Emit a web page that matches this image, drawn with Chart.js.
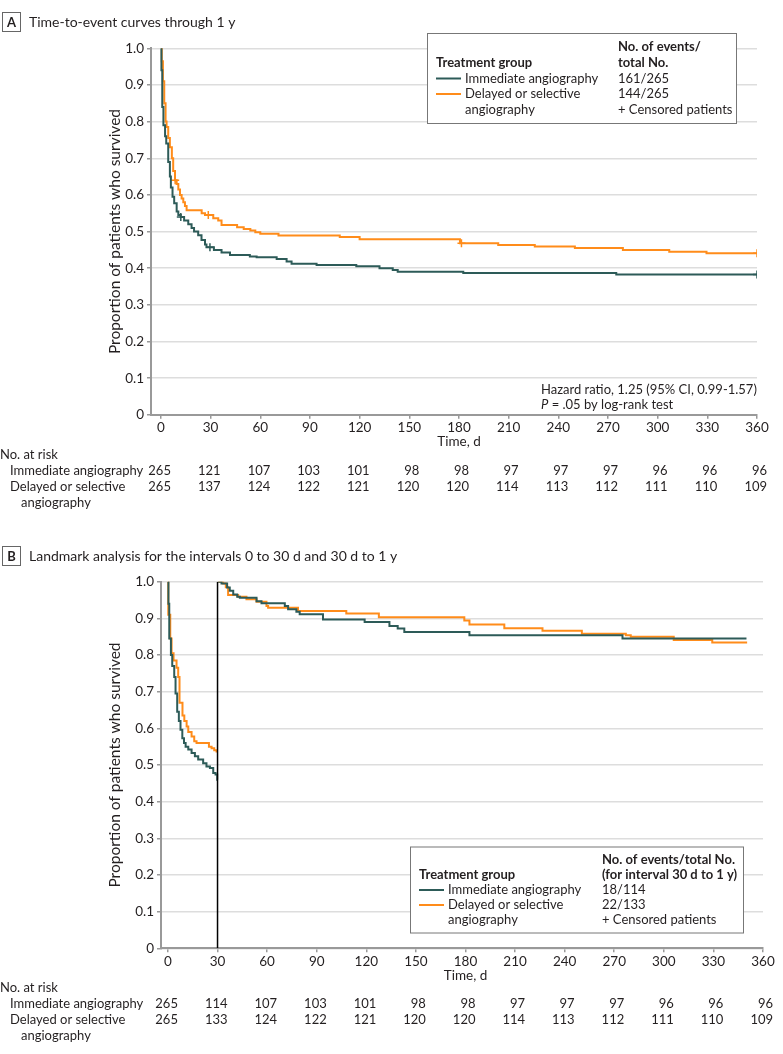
<!DOCTYPE html>
<html><head><meta charset="utf-8">
<script src="https://cdn.jsdelivr.net/npm/chart.js@4"></script>
<style>
body{margin:0;background:#fff;width:783px;height:1054px;position:relative;overflow:hidden}
canvas{position:absolute;left:0}
</style>
</head><body>
<canvas id="ca" width="783" height="520" style="top:0"></canvas>
<canvas id="cb" width="783" height="534" style="top:520px"></canvas>
<script>
// ---------- data ----------
const tickDays = [0,30,60,90,120,150,180,210,240,270,300,330,360];
const tickProp = [0,0.1,0.2,0.3,0.4,0.5,0.6,0.7,0.8,0.9,1.0];
const groupNames = ['Immediate angiography', 'Delayed or selective', 'angiography'];

// Panel A: time-to-event through 1 y
const aImmT = [0,0.3,0.8,1.5,2.5,3.2,4.4,5.4,6.0,7.0,8.0,9.5,10.5,12,14,16.5,18.5,20,22.5,24.5,26.6,27.5,32,36.6,41.7,53.7,57.8,69.9,75.9,78.9,94,118,132,140,143,182.6,275,360];
const aImmS = [1.0,0.94,0.84,0.79,0.76,0.74,0.69,0.65,0.62,0.595,0.577,0.555,0.545,0.54,0.53,0.52,0.51,0.50,0.49,0.477,0.465,0.457,0.45,0.443,0.436,0.432,0.43,0.425,0.418,0.412,0.409,0.405,0.40,0.395,0.39,0.387,0.383,0.383];
const aDelT = [0,0.5,1.2,2.0,2.8,3.4,4.4,5.4,6.6,7.4,8.5,9.5,10.5,11.5,12.5,13.5,14.5,15.5,24.6,26.6,31.6,34.6,36.6,46,50,54,57,60,71,108,120,180.6,203.7,225.8,250,279,307,329.5,360];
const aDelS = [1.0,0.965,0.91,0.85,0.80,0.785,0.755,0.73,0.70,0.665,0.64,0.63,0.615,0.60,0.59,0.58,0.57,0.558,0.55,0.545,0.536,0.53,0.518,0.512,0.507,0.503,0.498,0.494,0.489,0.485,0.479,0.468,0.463,0.459,0.455,0.45,0.445,0.441,0.441];
const aImmCensor = [12, 29.6, 360];
const aDelCensor = [8.6, 28.6, 181.5, 360];
const aRiskImm = [265,121,107,103,101,98,98,97,97,97,96,96,96];
const aRiskDel = [265,137,124,122,121,120,120,114,113,112,111,110,109];

// Panel B: landmark analysis 0-30 d and 30 d-1 y
const landmarkDay = 30;
const bImm1T = [0,0.3,0.8,1.8,2.6,3.8,4.6,5.6,6.6,7.6,8.7,9.7,10.7,12.3,14.3,16.3,18.3,21.3,23.3,25.4,27.4,28.8,29.8,30];
const bImm1S = [1.0,0.94,0.845,0.80,0.77,0.74,0.695,0.645,0.62,0.596,0.573,0.56,0.55,0.542,0.533,0.524,0.515,0.505,0.496,0.492,0.478,0.474,0.46,0.46];
const bDel1T = [0,0.2,1.4,2.2,3.4,5.2,6.2,7.0,8.8,9.9,11.3,12.3,14.3,15.9,17.3,24.8,26.4,28,29.4,30];
const bDel1S = [1.0,0.91,0.845,0.805,0.785,0.765,0.74,0.67,0.635,0.62,0.605,0.59,0.578,0.565,0.56,0.55,0.546,0.54,0.537,0.537];
const bImm2T = [30.4,32.4,35.8,37.4,39.5,41.9,43.5,53.6,56.6,70.7,72.7,77.7,79.7,93.8,119,134,139,143,182.4,275,350];
const bImm2S = [1.0,0.995,0.984,0.975,0.965,0.959,0.956,0.947,0.941,0.934,0.925,0.918,0.911,0.897,0.89,0.879,0.872,0.863,0.854,0.845,0.845];
const bDel2T = [30.4,33.4,35,36.4,42.5,47.5,53.6,59.6,60.6,78.7,107.9,127.6,179.3,182.4,203.5,226.6,250.4,277,280,306,329.3,350.4];
const bDel2S = [1.0,0.995,0.985,0.964,0.959,0.952,0.945,0.934,0.929,0.92,0.913,0.903,0.894,0.883,0.873,0.866,0.858,0.854,0.85,0.841,0.834,0.834];
const bRiskImm = [265,114,107,103,101,98,98,97,97,97,96,96,96];
const bRiskDel = [265,133,124,122,121,120,120,114,113,112,111,110,109];

// ---------- style ----------
const DARK = '#2d5b58';
const ORANGE = '#ff8c1a';
const FONT = 'Lato, "Noto Sans", "DejaVu Sans", sans-serif';
const TXT = '#231f20';

function pts(t, s) { return t.map((v, i) => ({x: v, y: s[i]})); }
function survAt(t, s, x) { let v = s[0]; for (let i = 0; i < t.length; i++) { if (t[i] <= x) v = s[i]; } return v; }
function censorPts(c, t, s) { return c.map(x => ({x: x, y: survAt(t, s, x)})); }

function stepDs(data, color) {
  return {type: 'line', data, borderColor: color, borderWidth: 2, stepped: true, pointRadius: 0, fill: false, tension: 0};
}
function censorDs(data, color) {
  return {type: 'line', data, showLine: false, pointStyle: 'cross', pointRadius: 4, pointBorderColor: color, pointBorderWidth: 1.5, borderColor: color};
}

function txt(ctx, s, x, y, opt = {}) {
  ctx.save();
  ctx.font = (opt.style || '') + ' ' + (opt.weight || 'normal') + ' ' + (opt.size || 13) + 'px ' + FONT;
  ctx.fillStyle = opt.color || TXT;
  ctx.textAlign = opt.align || 'left';
  ctx.textBaseline = 'middle';
  ctx.fillText(s, x, y);
  ctx.restore();
}

function makeChart(id, cfg) {
  const canvas = document.getElementById(id);
  const H = canvas.height, W = canvas.width;
  const area = cfg.area;
  const deco = {
    id: 'deco',
    afterDraw(chart) {
      const ctx = chart.ctx;
      const xs = chart.scales.x;
      const ca = chart.chartArea;
      // panel label box + title
      ctx.save();
      ctx.strokeStyle = '#666'; ctx.lineWidth = 1;
      ctx.strokeRect(2.5, cfg.titleY - 9.5, 18, 19);
      ctx.restore();
      txt(ctx, cfg.letter, 11.5, cfg.titleY + 0.5, {weight: 'bold', size: 13, align: 'center'});
      txt(ctx, cfg.title, 29, cfg.titleY, {size: 14});
      // y-axis title
      ctx.save();
      ctx.translate(115, (ca.top + ca.bottom) / 2);
      ctx.rotate(-Math.PI / 2);
      txt(ctx, 'Proportion of patients who survived', 0, 0, {size: 15.5, align: 'center'});
      ctx.restore();
      // x-axis title
      txt(ctx, 'Time, d', (xs.getPixelForValue(0) + xs.getPixelForValue(360)) / 2, ca.bottom + 27, {size: 13.5, align: 'center'});
      // at-risk table
      const b = ca.bottom;
      txt(ctx, 'No. at risk', 0, b + 40, {size: 13});
      txt(ctx, groupNames[0], 10, b + 56, {size: 13});
      txt(ctx, groupNames[1], 10, b + 72, {size: 13});
      txt(ctx, groupNames[2], 21, b + 88, {size: 13});
      tickDays.forEach((d, i) => {
        const px = xs.getPixelForValue(d) + 10;
        txt(ctx, String(cfg.riskImm[i]), px, b + 56, {size: 13, align: 'right'});
        txt(ctx, String(cfg.riskDel[i]), px, b + 72, {size: 13, align: 'right'});
      });
      // legend box
      const L = cfg.legend;
      ctx.save();
      ctx.fillStyle = '#fff';
      ctx.fillRect(L.x, L.y, L.w, L.h);
      ctx.strokeStyle = '#777'; ctx.lineWidth = 1;
      ctx.strokeRect(L.x + 0.5, L.y + 0.5, L.w, L.h);
      ctx.restore();
      L.head.forEach(h => txt(ctx, h[0], h[1], h[2], {weight: 'bold', size: 13}));
      const rows = L.rowY;
      txt(ctx, 'Treatment group', L.x + 9, rows[0] - 15.5, {weight: 'bold', size: 13});
      ctx.save();
      ctx.lineWidth = 2;
      ctx.strokeStyle = DARK; ctx.beginPath(); ctx.moveTo(L.x + 9, rows[0]); ctx.lineTo(L.x + 34, rows[0]); ctx.stroke();
      ctx.strokeStyle = ORANGE; ctx.beginPath(); ctx.moveTo(L.x + 9, rows[1]); ctx.lineTo(L.x + 34, rows[1]); ctx.stroke();
      ctx.restore();
      txt(ctx, groupNames[0], L.x + 38, rows[0], {size: 13});
      txt(ctx, groupNames[1], L.x + 38, rows[1], {size: 13});
      txt(ctx, groupNames[2], L.x + 38, rows[2], {size: 13});
      txt(ctx, L.vals[0], L.numX, rows[0], {size: 13});
      txt(ctx, L.vals[1], L.numX, rows[1], {size: 13});
      txt(ctx, '+ Censored patients', L.numX, rows[2], {size: 13});
      if (cfg.hazard) {
        txt(ctx, 'Hazard ratio, 1.25 (95% CI, 0.99-1.57)', 541, ca.bottom - 25, {size: 13});
        txt(ctx, 'P', 541, ca.bottom - 10, {size: 13, style: 'italic'});
        ctx.save(); ctx.font = 'italic 13px ' + FONT; const w = ctx.measureText('P').width; ctx.restore();
        txt(ctx, ' = .05 by log-rank test', 541 + w, ca.bottom - 10, {size: 13});
      }
    }
  };
  return new Chart(canvas, {
    data: {datasets: cfg.datasets},
    options: {
      responsive: false, animation: false, devicePixelRatio: 1,
      layout: {padding: {top: area.top, right: W - area.right, bottom: 0, left: 0}},
      plugins: {legend: {display: false}, tooltip: {enabled: false}},
      scales: {
        x: {
          type: 'linear', min: cfg.xmin, max: 360,
          afterBuildTicks: s => { s.ticks = tickDays.map(v => ({value: v})); },
          afterFit: s => { s.height = H - area.bottom; },
          ticks: {font: {family: FONT, size: 13.5}, color: TXT, padding: 1, maxRotation: 0, autoSkip: false},
          grid: {drawOnChartArea: false, drawTicks: true, tickLength: 4, tickColor: '#999', lineWidth: 1.5},
          border: {color: '#999', width: 2}
        },
        y: {
          type: 'linear', min: 0, max: 1,
          afterBuildTicks: s => { s.ticks = tickProp.map(v => ({value: v})); },
          afterFit: s => { s.width = area.left; },
          ticks: {font: {family: FONT, size: 13.5}, color: TXT, padding: 3, callback: v => v === 0 ? '0' : v.toFixed(1)},
          grid: {color: '#dddddd', lineWidth: 1.5, tickColor: '#999', tickLength: 4},
          border: {color: '#999', width: 2}
        }
      }
    },
    plugins: [deco]
  });
}

// Panel A
makeChart('ca', {
  letter: 'A', title: 'Time-to-event curves through 1 y', titleY: 22,
  area: {left: 151, right: 757, top: 48.3, bottom: 414.8}, xmin: -6,
  riskImm: aRiskImm, riskDel: aRiskDel, hazard: true,
  datasets: [
    censorDs(censorPts(aImmCensor, aImmT, aImmS), DARK),
    stepDs(pts(aImmT, aImmS), DARK),
    censorDs(censorPts(aDelCensor, aDelT, aDelS), ORANGE),
    stepDs(pts(aDelT, aDelS), ORANGE)
  ],
  legend: {x: 427, y: 33, w: 309, h: 90, numX: 618, rowY: [78.5, 94, 110],
    head: [['No. of events/', 618, 47], ['total No.', 618, 63]], vals: ['161/265', '144/265']}
});

// Panel B
makeChart('cb', {
  letter: 'B', title: 'Landmark analysis for the intervals 0 to 30 d and 30 d to 1 y', titleY: 36,
  area: {left: 161, right: 763, top: 61.7, bottom: 428.3}, xmin: -4.2,
  riskImm: bRiskImm, riskDel: bRiskDel, hazard: false,
  datasets: [
    {type: 'line', data: [{x: landmarkDay, y: 0}, {x: landmarkDay, y: 1}], borderColor: '#000', borderWidth: 1.5, pointRadius: 0, fill: false},
    stepDs(pts(bImm1T, bImm1S), DARK),
    stepDs(pts(bImm2T, bImm2S), DARK),
    stepDs(pts(bDel1T, bDel1S), ORANGE),
    stepDs(pts(bDel2T, bDel2S), ORANGE)
  ],
  legend: {x: 410, y: 326.5, w: 333, h: 86, numX: 602, rowY: [370, 385, 400],
    head: [['No. of events/total No.', 602, 340], ['(for interval 30 d to 1 y)', 602, 355]], vals: ['18/114', '22/133']}
});
</script>
</body></html>
